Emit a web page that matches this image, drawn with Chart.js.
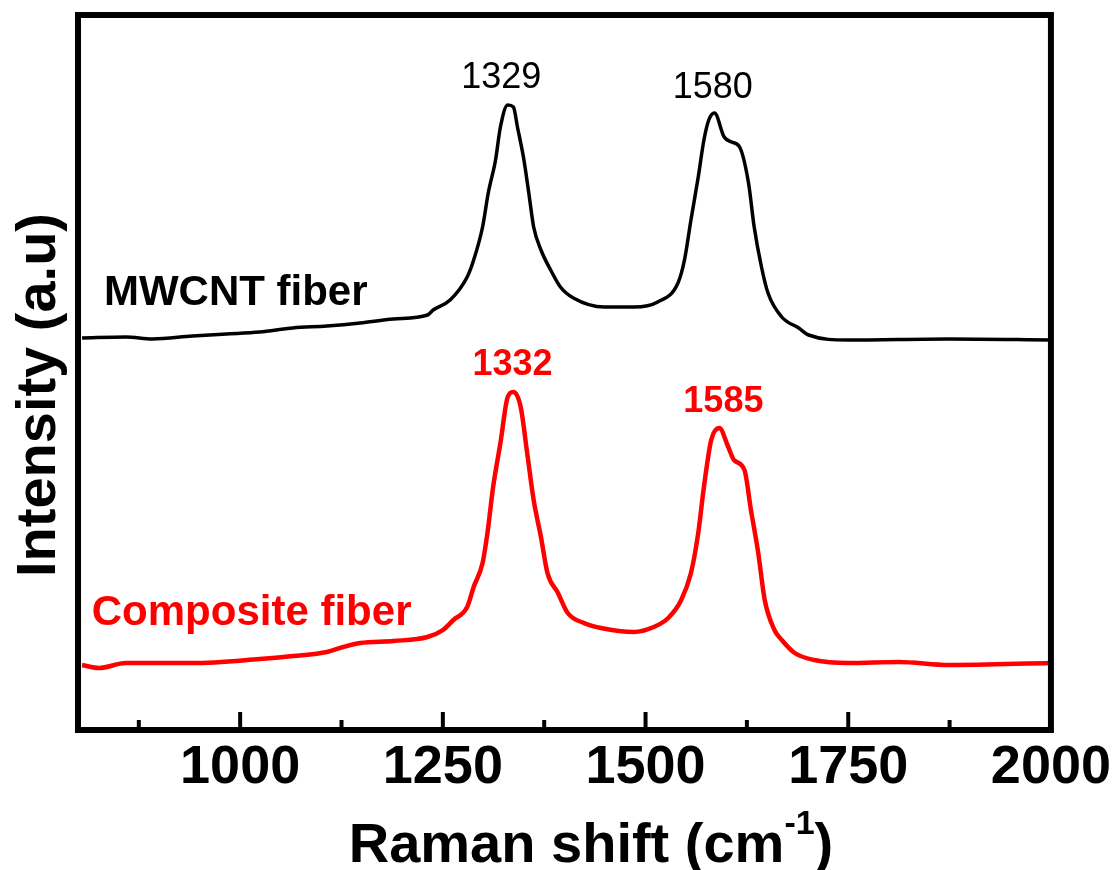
<!DOCTYPE html>
<html>
<head>
<meta charset="utf-8">
<script src="https://cdn.jsdelivr.net/npm/chart.js@4.4.1/dist/chart.umd.min.js"></script>
<style>
  html, body { margin: 0; padding: 0; background: #fff; }
  #wrap { width: 1117px; height: 870px; }
</style>
</head>
<body>
<div id="wrap"><canvas id="chart" width="1117" height="870"></canvas></div>
<script>
  // Raman spectra (intensity in arbitrary units)
  const mwcntShift = [805, 859, 892, 941, 983, 1024, 1065, 1107, 1148, 1189, 1231, 1238, 1259, 1280, 1288, 1299,
    1306, 1315, 1321, 1330, 1337, 1342, 1350, 1356, 1362, 1371, 1383, 1395, 1411, 1449, 1486, 1515, 1540, 1548,
    1556, 1565, 1572, 1578, 1585, 1597, 1606, 1616, 1627, 1634, 1643, 1651, 1668, 1689, 1701, 1750, 1874, 2000];
  const mwcntIntensity = [392, 393, 391, 394, 396, 398, 402, 404, 407, 411, 415, 420, 430, 453, 470, 503,
    537, 570, 603, 625, 623, 603, 570, 537, 503, 480, 460, 443, 432, 423, 423, 428, 447, 470,
    510, 553, 590, 610, 617, 593, 588, 583, 547, 503, 463, 437, 413, 402, 395, 390, 391, 390];

  const compositeShift = [805, 826, 859, 941, 1024, 1065, 1107, 1127, 1148, 1189, 1231, 1250, 1263, 1280, 1288,
    1299, 1305, 1312, 1321, 1330, 1337, 1346, 1354, 1362, 1371, 1379, 1392, 1404, 1424, 1445, 1486, 1510, 1528,
    1544, 1556, 1565, 1572, 1581, 1591, 1602, 1609, 1622, 1630, 1639, 1647, 1659, 1668, 1684, 1708, 1750, 1812,
    1874, 2000];
  const compositeIntensity = [65, 62, 67, 67, 71, 74, 78, 83, 87, 89, 93, 100, 110, 123, 143,
    167, 197, 243, 287, 333, 338, 323, 277, 230, 193, 157, 137, 117, 107, 102, 98, 103, 112,
    130, 157, 197, 243, 290, 302, 283, 270, 260, 220, 177, 130, 100, 90, 77, 70, 67, 68,
    65, 67];

  const xTickValues = [875, 1000, 1125, 1250, 1375, 1500, 1625, 1750, 1875, 2000];
  const xTickLabels = { 1000: "1000", 1250: "1250", 1500: "1500", 1750: "1750", 2000: "2000" };

  const FONT = '"Liberation Sans", Arial, sans-serif';

  const peakLabels = [
    { text: "1329", x: 1322, y: 642, color: "#000", font: "36px " + FONT, align: "center" },
    { text: "1580", x: 1583, y: 632, color: "#000", font: "36px " + FONT, align: "center" },
    { text: "MWCNT fiber", x: 832, y: 425, color: "#000", font: "bold 42px " + FONT, align: "left" },
    { text: "1332", x: 1336, y: 355, color: "#ff0000", font: "bold 36px " + FONT, align: "center" },
    { text: "1585", x: 1596, y: 318, color: "#ff0000", font: "bold 36px " + FONT, align: "center" },
    { text: "Composite fiber", x: 817, y: 105, color: "#ff0000", font: "bold 42px " + FONT, align: "left" },
  ];

  function toPoints(xs, ys) {
    return xs.map((x, i) => ({ x: x, y: ys[i] }));
  }

  /** Box frame, inward ticks, annotations and axis titles */
  const decorPlugin = {
    id: "decor",
    afterDraw(chart) {
      const ctx = chart.ctx;
      const a = chart.chartArea;
      const xs = chart.scales.x;
      const ys = chart.scales.y;
      ctx.save();

      // inward tick marks on the bottom axis
      ctx.strokeStyle = "#000";
      ctx.lineWidth = 4;
      xTickValues.forEach((v) => {
        const px = xs.getPixelForValue(v);
        const len = xTickLabels[v] ? 18 : 10;
        ctx.beginPath();
        ctx.moveTo(px, a.bottom);
        ctx.lineTo(px, a.bottom - len);
        ctx.stroke();
      });

      // frame
      ctx.lineWidth = 6;
      ctx.strokeRect(a.left, a.top, a.right - a.left, a.bottom - a.top);

      // curve labels
      ctx.textBaseline = "alphabetic";
      peakLabels.forEach((l) => {
        ctx.font = l.font;
        ctx.fillStyle = l.color;
        ctx.textAlign = l.align;
        ctx.fillText(l.text, xs.getPixelForValue(l.x), ys.getPixelForValue(l.y));
      });

      // x title with superscript
      ctx.fillStyle = "#000";
      ctx.textAlign = "left";
      const mainFont = "bold 56px " + FONT;
      const supFont = "bold 34px " + FONT;
      ctx.font = mainFont;
      const w1 = ctx.measureText("Raman shift (cm").width;
      const w3 = ctx.measureText(")").width;
      ctx.font = supFont;
      const w2 = ctx.measureText("-1").width;
      let tx = 591 - (w1 + w2 + w3) / 2;
      const base = 862;
      ctx.font = mainFont;
      ctx.fillText("Raman shift (cm", tx, base);
      tx += w1;
      ctx.font = supFont;
      ctx.fillText("-1", tx, base - 28);
      tx += w2;
      ctx.font = mainFont;
      ctx.fillText(")", tx, base);

      // y title
      ctx.translate(40, 395);
      ctx.rotate(-Math.PI / 2);
      ctx.textAlign = "center";
      ctx.textBaseline = "middle";
      ctx.font = "bold 56px " + FONT;
      ctx.fillText("Intensity (a.u)", 0, 0);
      ctx.restore();
    },
  };

  new Chart(document.getElementById("chart"), {
    type: "line",
    data: {
      datasets: [
        {
          label: "MWCNT fiber",
          data: toPoints(mwcntShift, mwcntIntensity),
          borderColor: "#000000",
          borderWidth: 3.5,
          pointRadius: 0,
          cubicInterpolationMode: "monotone",
        },
        {
          label: "Composite fiber",
          data: toPoints(compositeShift, compositeIntensity),
          borderColor: "#ff0000",
          borderWidth: 4.5,
          pointRadius: 0,
          cubicInterpolationMode: "monotone",
        },
      ],
    },
    options: {
      responsive: false,
      animation: false,
      layout: { padding: { left: 78, right: 65, top: 15, bottom: 0 } },
      plugins: { legend: { display: false }, tooltip: { enabled: false } },
      scales: {
        x: {
          type: "linear",
          min: 800,
          max: 2000,
          afterBuildTicks: (scale) => {
            scale.ticks = xTickValues.map((v) => ({ value: v }));
          },
          afterFit: (scale) => {
            scale.height = 140;
          },
          grid: { display: false, drawTicks: false },
          border: { display: false },
          ticks: {
            autoSkip: false,
            maxRotation: 0,
            padding: 6,
            color: "#000",
            font: { family: FONT, size: 54, weight: "bold" },
            callback: (v) => xTickLabels[v] || "",
          },
        },
        y: {
          display: false,
          min: 0,
          max: 715,
        },
      },
    },
    plugins: [decorPlugin],
  });
</script>
</body>
</html>
